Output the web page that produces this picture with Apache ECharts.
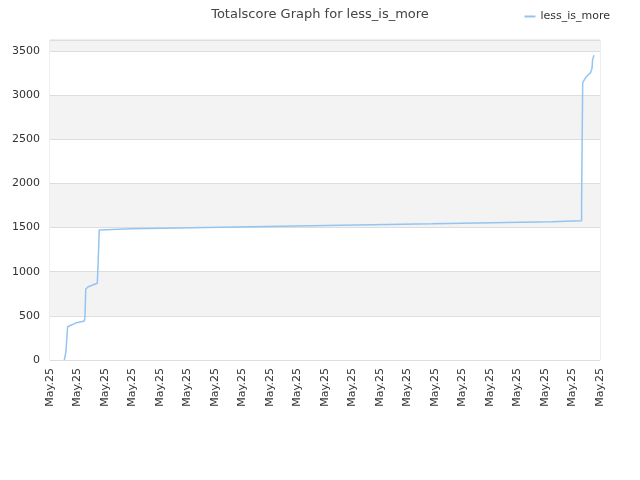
<!DOCTYPE html>
<html>
<head>
<meta charset="utf-8">
<script src="https://cdn.jsdelivr.net/npm/echarts@6/dist/echarts.min.js"></script>
<style>
  html, body {margin: 0; padding: 0; background: #fff;}
  #chart {width: 640px; height: 480px;}
</style>
</head>
<body>
<div id="chart"></div>
<script>
// x positions in tick units (0..20), one tick per label
let xs = [0.52, 0.58, 0.64, 0.70, 0.97, 1.25, 1.27, 1.30, 1.39, 1.72, 1.75, 1.79, 1.84,
  2.95, 2.95, 5.13, 5.13, 7.31, 7.31, 9.49, 9.49, 11.70, 11.70, 13.88, 13.88,
  16.06, 16.06, 18.24, 18.24, 19.33, 19.33, 19.37, 19.48, 19.55, 19.66, 19.71, 19.73, 19.78];
let scores = [0, 94, 377, 397, 423, 442, 476, 804, 830, 869, 1096, 1473, 1488,
  1488, 1499, 1499, 1510, 1510, 1522, 1522, 1533, 1533, 1544, 1544, 1556,
  1556, 1567, 1567, 1578, 1578, 1748, 3142, 3199, 3225, 3256, 3304, 3400, 3453];
let tickLabel = 'May.25';
let seriesName = 'less_is_more';

let font = 'DejaVu Sans';
let chart = echarts.init(document.getElementById('chart'));

let points = xs.map(function (x, i) {
  return [x, scores[i]];
});

chart.setOption({
  animation: false,
  title: {
    text: 'Totalscore Graph for ' + seriesName,
    left: 'center', top: 3,
    textStyle: {fontFamily: font, fontSize: 13, fontWeight: 'normal', color: '#444'}
  },
  legend: {
    right: 25, top: 6,
    icon: 'rect', itemWidth: 11, itemHeight: 2, itemGap: 6,
    textStyle: {fontFamily: font, fontSize: 11, color: '#333'},
    data: [seriesName]
  },
  grid: {
    left: 50, right: 40, top: 40, bottom: 120,
    show: true, borderColor: '#dddddd', borderWidth: 1
  },
  xAxis: {
    type: 'value', min: 0, max: 20, interval: 1,
    axisLine: {show: false},
    axisTick: {show: false},
    splitLine: {show: false},
    axisLabel: {
      rotate: 90, margin: 8,
      fontFamily: font, fontSize: 11, color: '#333',
      showMaxLabel: true, showMinLabel: true,
      formatter: function () {
        return tickLabel;
      }
    }
  },
  yAxis: {
    type: 'value', min: 0, max: 3625, interval: 500,
    axisLine: {show: false},
    axisTick: {show: false},
    axisLabel: {
      fontFamily: font, fontSize: 11, color: '#333', margin: 10, showMaxLabel: false,
      formatter: function (v) {
        return String(v);
      }
    },
    splitLine: {lineStyle: {color: '#dddddd', width: 1}},
    splitArea: {show: true, areaStyle: {color: ['#ffffff', '#f3f3f3']}}
  },
  series: [
    {
      name: seriesName, type: 'line', data: points,
      showSymbol: false, symbol: 'none',
      lineStyle: {color: '#94c4f2', width: 1.5},
      itemStyle: {color: '#94c4f2'}
    }
  ]
});
</script>
</body>
</html>
